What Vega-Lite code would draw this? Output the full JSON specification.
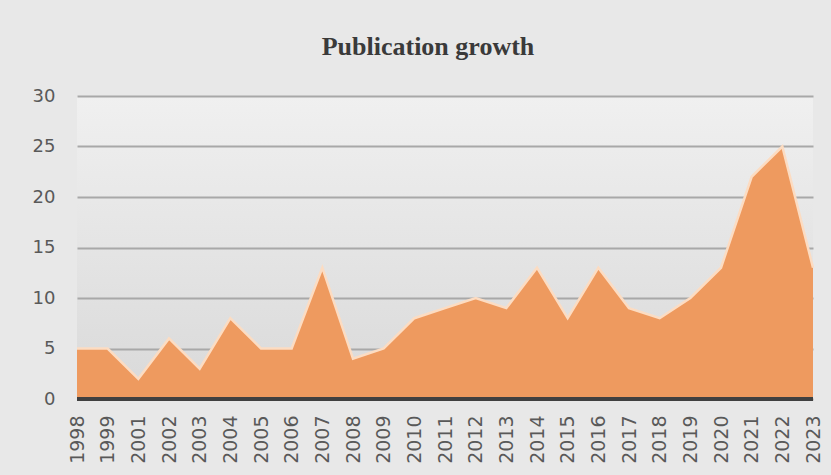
{
  "$schema": "https://vega.github.io/schema/vega-lite/v6.json",
  "autosize": "none",
  "width": 736,
  "height": 303,
  "padding": {"left": 77, "top": 96, "right": 18, "bottom": 76},
  "background": "#e8e8e8",
  "title": {
    "text": "Publication growth",
    "font": "Liberation Serif",
    "fontSize": 26,
    "fontWeight": "bold",
    "color": "#3a3a3a",
    "anchor": "middle",
    "dx": -17,
    "offset": 27
  },
  "config": {
    "view": {
      "stroke": null,
      "fill": {
        "gradient": "linear",
        "x1": 0, "y1": 0, "x2": 0, "y2": 1,
        "stops": [
          {"offset": 0, "color": "#f0f0f0"},
          {"offset": 1, "color": "#d9d9d9"}
        ]
      }
    }
  },
  "data": {
    "values": [
      {"year": "1998", "count": 5},
      {"year": "1999", "count": 5},
      {"year": "2001", "count": 2},
      {"year": "2002", "count": 6},
      {"year": "2003", "count": 3},
      {"year": "2004", "count": 8},
      {"year": "2005", "count": 5},
      {"year": "2006", "count": 5},
      {"year": "2007", "count": 13},
      {"year": "2008", "count": 4},
      {"year": "2009", "count": 5},
      {"year": "2010", "count": 8},
      {"year": "2011", "count": 9},
      {"year": "2012", "count": 10},
      {"year": "2013", "count": 9},
      {"year": "2014", "count": 13},
      {"year": "2015", "count": 8},
      {"year": "2016", "count": 13},
      {"year": "2017", "count": 9},
      {"year": "2018", "count": 8},
      {"year": "2019", "count": 10},
      {"year": "2020", "count": 13},
      {"year": "2021", "count": 22},
      {"year": "2022", "count": 25},
      {"year": "2023", "count": 13}
    ]
  },
  "encoding": {
    "x": {
      "field": "year",
      "type": "ordinal",
      "scale": {"type": "point", "padding": 0},
      "axis": {
        "title": null,
        "labelAngle": -90,
        "labelFont": "DejaVu Sans",
        "labelFontSize": 19,
        "labelColor": "#595959",
        "labelPadding": 16,
        "ticks": false,
        "domain": false,
        "grid": false
      }
    },
    "y": {
      "field": "count",
      "type": "quantitative",
      "scale": {"domain": [0, 30]},
      "axis": {
        "title": null,
        "values": [0, 5, 10, 15, 20, 25, 30],
        "labelFont": "DejaVu Sans",
        "labelFontSize": 18,
        "labelColor": "#595959",
        "labelPadding": 22,
        "ticks": false,
        "domain": false,
        "grid": true,
        "gridColor": "#a8a8a8",
        "gridWidth": 2
      }
    }
  },
  "layer": [
    {
      "mark": {"type": "area", "color": "#ee9a5f", "opacity": 1, "line": {"color": "#fcdcc2", "strokeWidth": 2.5}}
    },
    {
      "mark": {"type": "rule", "color": "#404040", "strokeWidth": 4},
      "encoding": {
        "y": {"datum": 0, "type": "quantitative"},
        "x": null
      }
    }
  ]
}
